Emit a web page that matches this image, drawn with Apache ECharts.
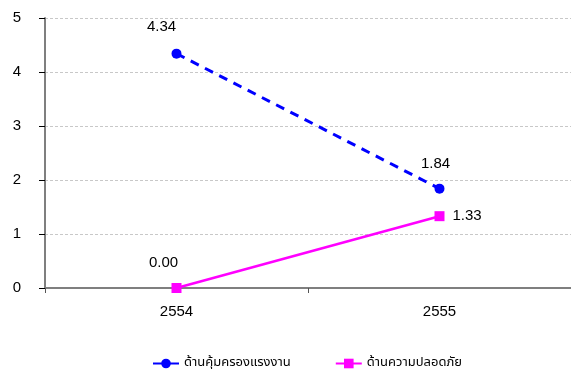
<!DOCTYPE html>
<html><head><meta charset="utf-8">
<script src="https://cdn.jsdelivr.net/npm/echarts@6/dist/echarts.min.js"></script>
<style>html,body{margin:0;padding:0;background:#fff}#c{width:571px;height:370px}</style>
</head><body><div id="c"></div>
<script>
const categories = ['2554', '2555'];
const seriesNames = ['ด้านคุ้มครองแรงงาน', 'ด้านความปลอดภัย'];
const laborValues = [4.34, 1.84];
const safetyValues = [0.00, 1.33];
const yTicks = [0, 1, 2, 3, 4, 5];

const FONT = '"Liberation Sans", Arial, sans-serif';
const lblBase = {show: true, color: '#000', fontFamily: FONT, fontSize: 15, formatter: p => p.value.toFixed(2)};
const laborOffsets = [[-15, -9], [-4, -7]];
const safetyOffsets = [[-13, -5], [0, 0]];
const safetyPos = ['top', 'right'];

const chart = echarts.init(document.getElementById('c'));
chart.setOption({
  animation: false,
  grid: {left: 45, right: 0, top: 18, bottom: 82, containLabel: false},
  xAxis: {
    type: 'category', data: categories, boundaryGap: true,
    axisLine: {lineStyle: {color: '#7f7f7f', width: 2}},
    axisTick: {show: true, length: 5, lineStyle: {color: '#555', width: 1}},
    axisLabel: {color: '#000', fontFamily: FONT, fontSize: 15, margin: 16},
    splitLine: {show: false}
  },
  yAxis: {
    type: 'value', min: yTicks[0], max: yTicks[yTicks.length - 1], interval: 1,
    axisLine: {show: true, lineStyle: {color: '#7f7f7f', width: 2}},
    axisTick: {show: true, length: 6, lineStyle: {color: '#000', width: 1}},
    axisLabel: {color: '#000', fontFamily: FONT, fontSize: 15, margin: 28, align: 'center'},
    splitLine: {show: true, lineStyle: {color: '#c8c8c8', type: [3, 2], width: 1}}
  },
  legend: {
    bottom: 0, left: 152, padding: 0, itemWidth: 26, itemHeight: 12, itemGap: 44,
    textStyle: {color: '#000', fontFamily: '"Noto Sans Thai", "Noto Sans", "DejaVu Sans", sans-serif', fontSize: 13},
    data: [
      {name: seriesNames[0], lineStyle: {type: 'solid'}},
      {name: seriesNames[1], lineStyle: {type: 'solid'}}
    ]
  },
  series: [
    {
      name: seriesNames[0], type: 'line',
      data: laborValues.map((v, i) => ({value: v, label: Object.assign({}, lblBase, {position: 'top', offset: laborOffsets[i]})})),
      symbol: 'circle', symbolSize: 10,
      itemStyle: {color: '#0000ff'},
      lineStyle: {color: '#0000ff', width: 3, type: [9, 7]}
    },
    {
      name: seriesNames[1], type: 'line',
      data: safetyValues.map((v, i) => ({value: v, label: Object.assign({}, lblBase, {position: safetyPos[i], offset: safetyOffsets[i], distance: 8})})),
      symbol: 'rect', symbolSize: 10,
      itemStyle: {color: '#ff00ff'},
      lineStyle: {color: '#ff00ff', width: 2.5}
    }
  ]
});
</script></body></html>
